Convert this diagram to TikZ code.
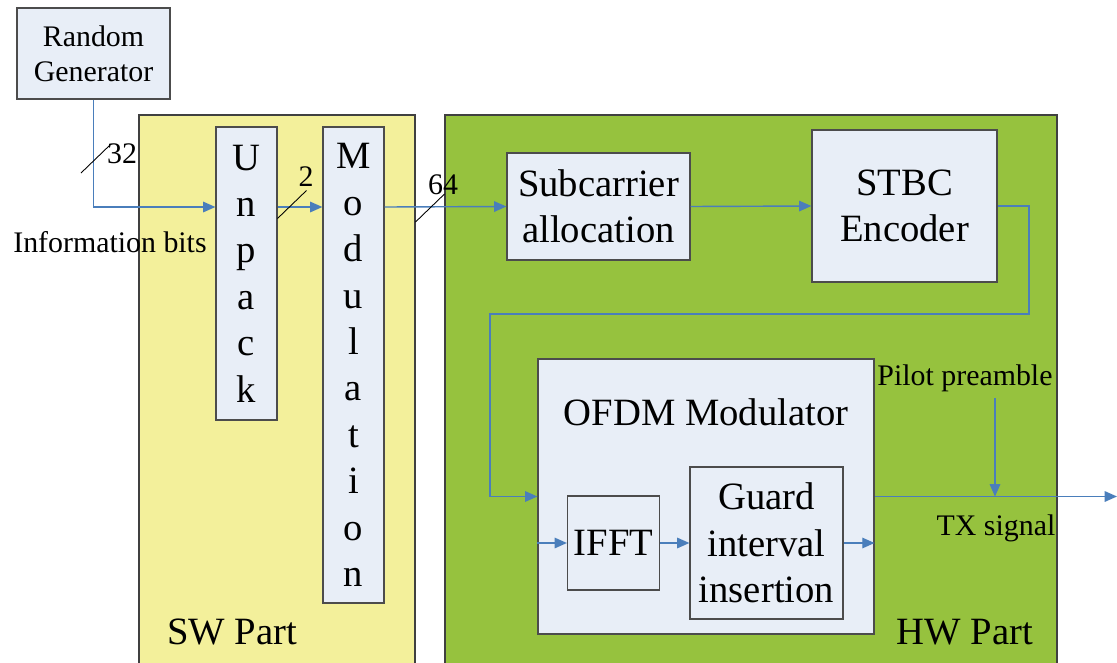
\documentclass[tikz,border=0pt]{standalone}
\usepackage{fontspec}
\setmainfont{Liberation Serif}
\usetikzlibrary{arrows.meta}
\definecolor{swyellow}{RGB}{243,240,155}
\definecolor{hwgreen}{RGB}{150,194,62}
\definecolor{boxfill}{RGB}{232,238,247}
\definecolor{flowblue}{RGB}{74,126,187}
\begin{document}
\begin{tikzpicture}[x=0.02cm,y=-0.02cm,
		block/.style={draw=black!70,fill=boxfill,line width=0.7pt,inner sep=0pt,align=center},
		flow/.style={draw=flowblue,line width=0.8pt,-{Triangle[length=7pt,width=6pt]}},
		tick/.style={draw=black,line width=0.5pt}]
				\newcommand{\myfontbig}{\fontsize{22}{26.4}\selectfont}
				\newcommand{\myfontsmall}{\fontsize{17}{19.8}\selectfont}
				\useasboundingbox (0,0) rectangle (1117,663);
				%SW and HW parts
				\fill[swyellow] (139,115) rectangle (415,663);
				\draw[black!75,line width=0.7pt] (139,663) -- (139,115) -- (415,115) -- (415,663);
				\fill[hwgreen] (445,115) rectangle (1057,663);
				\draw[black!75,line width=0.7pt] (445,663) -- (445,115) -- (1057,115) -- (1057,663);
				\node [font=\myfontbig] (swlbl) at (232,632) {SW Part};
				\node [font=\myfontbig] (hwlbl) at (965,632) {HW Part};
				%Blocks
				\node [block,font=\myfontsmall,minimum width=3.06cm,minimum height=1.82cm] (gen) at (93.5,53.5) {Random\\Generator};
				\node [block,font=\myfontbig,minimum width=1.22cm,minimum height=5.86cm] (unpack) at (246.5,273.5) {U\\n\\p\\a\\c\\k};
				\node [block,font=\myfontbig,minimum width=1.22cm,minimum height=9.52cm] (modul) at (353.5,365) {M\\o\\d\\u\\l\\a\\t\\i\\o\\n};
				\node [block,font=\myfontbig,minimum width=3.66cm,minimum height=2.14cm] (subc) at (598.5,206.5) {Subcarrier\\allocation};
				\node [block,font=\myfontbig,minimum width=3.70cm,minimum height=3.04cm] (stbc) at (904.5,206) {STBC\\Encoder};
				%OFDM modulator with its inner blocks
				\node [block,minimum width=6.72cm,minimum height=5.50cm] (ofdm) at (706,496.5) {};
				\node [font=\myfontbig] (ofdmlbl) at (706,412) {OFDM Modulator};
				\node [block,font=\myfontbig,minimum width=1.84cm,minimum height=1.88cm] (ifft) at (613.5,543) {IFFT};
				\node [block,font=\myfontbig,minimum width=3.06cm,minimum height=3.04cm] (guard) at (766.5,543) {Guard\\interval\\insertion};
				%Free texts
				\node [font=\myfontsmall] (infobits) at (110,242) {Information bits};
				\node [font=\myfontsmall] (pilot) at (965,378) {Pilot preamble};
				\node [font=\myfontsmall] (txsig) at (996,528) {TX signal};
				%Helper coordinates
				\coordinate (busy) at (0,207);
				\coordinate (turnR) at (1029,314);
				\coordinate (turnL) at (490,314);
				\coordinate (mix) at (995,496.5);
				\coordinate (txend) at (1117,496.5);
				%Data path
				\draw[flow] (gen.south) |- (unpack.west |- busy);
				\draw[flow] (unpack.east |- busy) -- (modul.west |- busy);
				\draw[flow] (modul.east |- busy) -- (subc.west);
				\draw[flow] (subc.east) -- (stbc.west);
				\draw[flow] (stbc.east) -| (turnR) -- (turnL) |- (ofdm.west);
				\draw[flow] (ofdm.west |- ifft.west) -- (ifft.west);
				\draw[flow] (ifft.east) -- (guard.west);
				\draw[flow] (guard.east) -- (ofdm.east |- guard.east);
				\draw[flow] (ofdm.east) -- (txend);
				\draw[flow] (pilot.south -| mix) -- (mix);
				%Bus width marks
				\foreach \cx/\cy/\lx/\ly/\n in {95.5/159/122/154/32, 292/204.5/306/177/2, 430/208/443/185/64} {
					\draw[tick] (\cx-14.5,\cy+14) -- (\cx+14.5,\cy-14);
					\node [font=\myfontsmall] (w\n) at (\lx,\ly) {\n};
				}
\end{tikzpicture}
\end{document}
